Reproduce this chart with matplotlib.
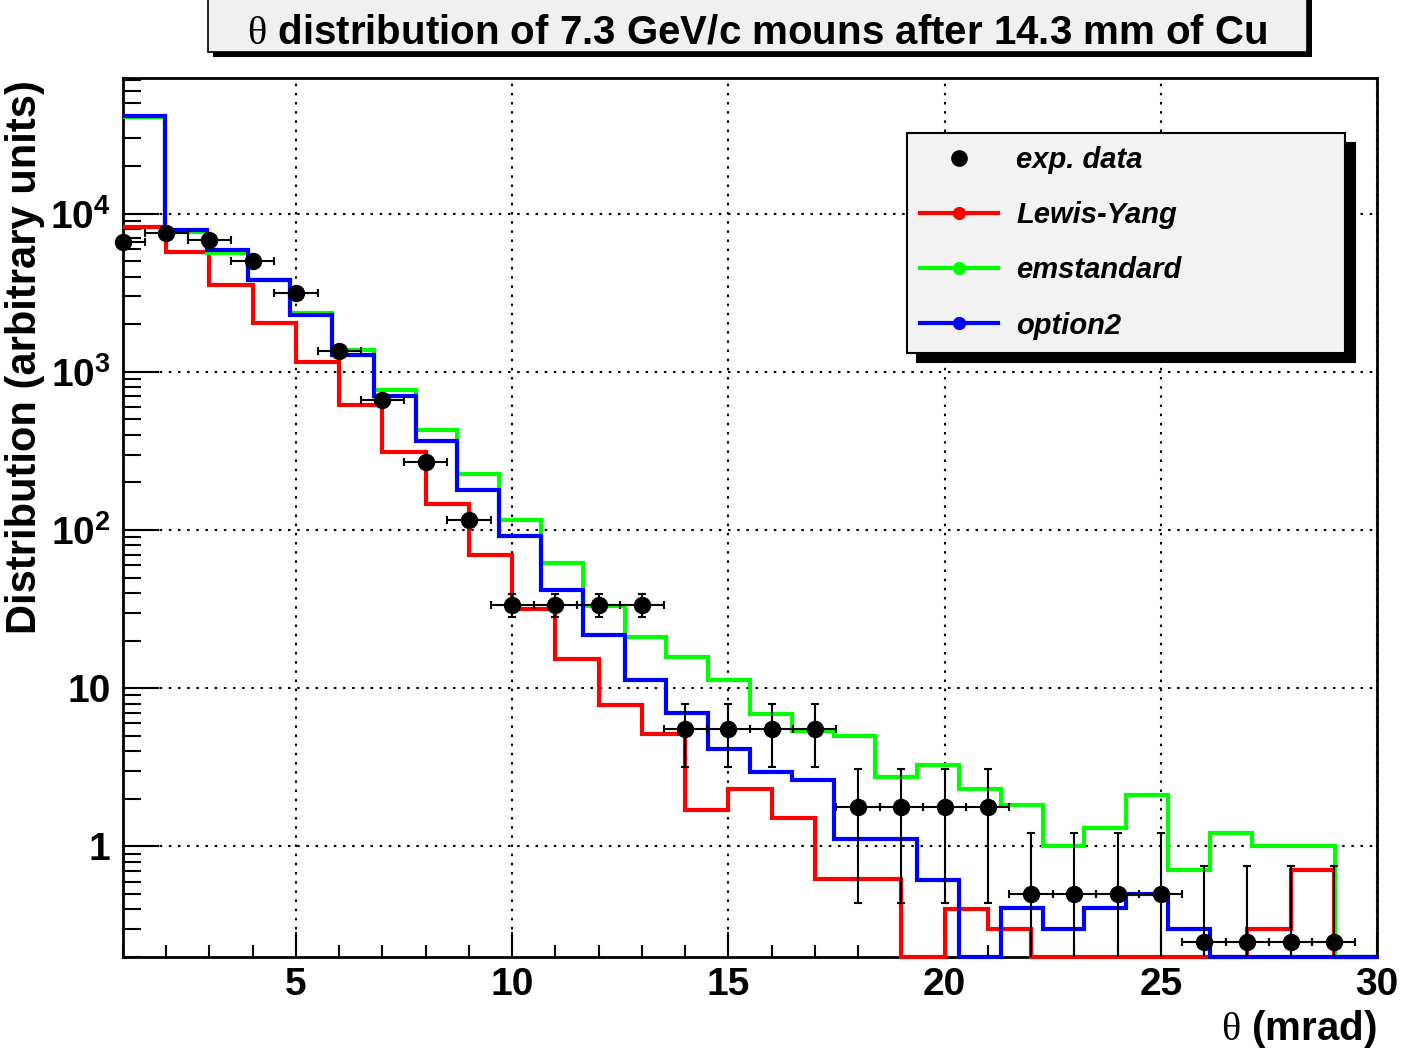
import numpy as np
import matplotlib
matplotlib.use("Agg")
import matplotlib.pyplot as plt
from matplotlib.lines import Line2D
from matplotlib.patches import Rectangle
from matplotlib.ticker import FixedLocator, FixedFormatter, MultipleLocator, LogLocator, NullFormatter

plt.rcParams["font.family"] = ["Liberation Sans", "DejaVu Sans"]
plt.rcParams["font.weight"] = "bold"
plt.rcParams["mathtext.fontset"] = "custom"
plt.rcParams["mathtext.rm"] = "Liberation Serif:weight=normal:style=normal"
plt.rcParams["mathtext.bf"] = "Liberation Sans:bold"

# measured points (mrad)
theta_exp = [1, 2, 3, 4, 5, 6, 7, 8, 9, 10, 11, 12, 13, 14, 15, 16, 17, 18, 19, 20,
             21, 22, 23, 24, 25, 26, 27, 28, 29]
counts_exp = [6600, 7500, 6800, 5000, 3170, 1350, 660, 270, 115,
              33.8, 33.8, 33.8, 33.8, 5.55, 5.55, 5.55, 5.55,
              1.77, 1.77, 1.77, 1.77, 0.50, 0.50, 0.50, 0.50,
              0.25, 0.25, 0.25, 0.25]
err_exp = [200, 220, 200, 150, 95, 40, 20, 8, 3.5,
           5.8, 5.8, 5.8, 5.8, 2.35, 2.35, 2.35, 2.35,
           1.33, 1.33, 1.33, 1.33, 0.72, 0.72, 0.72, 0.72,
           0.5, 0.5, 0.5, 0.5]
theta_halfwidth = 0.5

# simulations
edges_ly = np.arange(1, 31)
lewis_yang = [8220, 5710, 3550, 2050, 1150, 617, 310, 147, 70, 31.8, 15.3, 7.8, 5.1,
              1.71, 2.32, 1.52, 0.62, 0.62, 0, 0.40, 0.30, 0, 0, 0, 0, 0, 0.30, 0.71, 0]

edges_g4 = np.linspace(1, 30, 31)
emstandard = [41000, 7700, 5630, 3800, 2350, 1365, 770, 426, 227, 115, 62, 33, 21.1,
              15.7, 11.3, 6.9, 5.4, 5.0, 2.74, 3.26, 2.31, 1.84, 1.0, 1.31, 2.11, 0.71,
              1.22, 1.0, 1.0, 0]
option2 = [41500, 7900, 5850, 3800, 2300, 1280, 700, 367, 179, 92, 42, 21.8, 11.2,
           7.0, 4.1, 2.94, 2.62, 1.11, 1.11, 0.61, 0, 0.41, 0.30, 0.41, 0.50, 0.30,
           0, 0, 0, 0]

y_tick_vals = [1, 10, 100, 1000, 10000]
y_tick_labels = ["1", "10", r"$\mathbf{10^{2}}$", r"$\mathbf{10^{3}}$", r"$\mathbf{10^{4}}$"]
legend_labels = ["exp. data", "Lewis-Yang", "emstandard", "option2"]

W, H = 1401, 1052
Y_LO, Y_HI = 0.2, 7.2e4

fig = plt.figure(figsize=(W / 100, H / 100), dpi=100)
ax = fig.add_axes([123 / W, 1 - 957 / H, 1254 / W, 879 / H])
ax.set_yscale("log")
ax.set_xlim(1, 30)
ax.set_ylim(Y_LO, Y_HI)

# empty bins are drawn along the bottom of the frame, like ROOT does
for vals, edges, col in [(lewis_yang, edges_ly, "#ff0000"),
                         (emstandard, edges_g4, "#00ff00"),
                         (option2, edges_g4, "#0000ff")]:
    ax.stairs(np.maximum(vals, Y_LO), edges, baseline=None, color=col, lw=3,
              zorder=3, clip_on=False)

ax.errorbar(theta_exp, counts_exp, xerr=theta_halfwidth, yerr=err_exp, fmt="none",
            ecolor="black", elinewidth=1.5, capsize=3, capthick=1.5, zorder=4)
ax.plot(theta_exp, counts_exp, "o", color="black", ms=11.5, zorder=5, clip_on=False)

# axes styling
ax.grid(True, which="major", color="black", linestyle=(0, (1.2, 3.2)), lw=1.5)
ax.xaxis.set_major_locator(MultipleLocator(5))
ax.xaxis.set_minor_locator(MultipleLocator(1))
ax.yaxis.set_major_locator(FixedLocator(y_tick_vals))
ax.yaxis.set_major_formatter(FixedFormatter(y_tick_labels))
ax.yaxis.set_minor_locator(LogLocator(base=10, subs=np.arange(2, 10), numticks=30))
ax.yaxis.set_minor_formatter(NullFormatter())
ax.tick_params(axis="both", which="both", direction="in", top=False, right=False,
               width=1.5, color="black")
ax.tick_params(axis="x", which="major", length=18, pad=7, labelsize=28)
ax.tick_params(axis="x", which="minor", length=9)
ax.tick_params(axis="y", which="major", length=26, pad=9, labelsize=28)
ax.tick_params(axis="y", which="minor", length=13)
for sp in ax.spines.values():
    sp.set_linewidth(2)

ax.set_xlabel(r"$\mathrm{\theta}$ (mrad)", fontsize=29, fontweight="bold")
ax.xaxis.set_label_coords(1.0, -(1008 - 957) / 879)
ax.xaxis.label.set(ha="right", va="top")
ax.set_ylabel("Distribution (arbitrary units)", fontsize=30, fontweight="bold")
ax.yaxis.label.set(rotation_mode="default", ha="center", va="top")
ax.yaxis.set_label_coords((25 - 123) / 1254, 1 - (80 - 78) / 879)

# legend
handles = [Line2D([], [], ls="none", marker="o", color="black", ms=11),
           Line2D([], [], color="#ff0000", lw=3, marker="o", ms=8.5),
           Line2D([], [], color="#00ff00", lw=3, marker="o", ms=8.5),
           Line2D([], [], color="#0000ff", lw=3, marker="o", ms=8.5)]
leg = ax.legend(handles, legend_labels, loc="upper left",
                bbox_to_anchor=(0.6252, 0.8374, 0.3493, 0.1), mode="expand",
                borderaxespad=0, handlelength=2.67, handletextpad=0.62,
                borderpad=0.45, labelspacing=0.93, fancybox=False, framealpha=1,
                facecolor="#f2f2f2", edgecolor="black",
                prop=dict(family="Liberation Sans", weight="bold", style="italic", size=21),
                shadow={"ox": 7, "oy": -7, "facecolor": "black", "edgecolor": "black",
                        "alpha": 1})
leg.get_frame().set_linewidth(1.5)

# title box with shadow
fig.add_artist(Rectangle((213 / W, 1 - 57 / H), 1099 / W, 80 / H, transform=fig.transFigure,
                         facecolor="black", edgecolor="black", lw=0))
fig.add_artist(Rectangle((208 / W, 1 - 52 / H), 1099 / W, 80 / H, transform=fig.transFigure,
                         facecolor="#f0f0f0", edgecolor="black", lw=1.2))
fig.text(757.5 / W, 1 - 43 / H,
         r"$\mathrm{\theta}$ distribution of 7.3 GeV/c mouns after 14.3 mm of Cu",
         ha="center", va="baseline", fontsize=29, fontweight="bold")

fig.savefig("out.png", dpi=100)
